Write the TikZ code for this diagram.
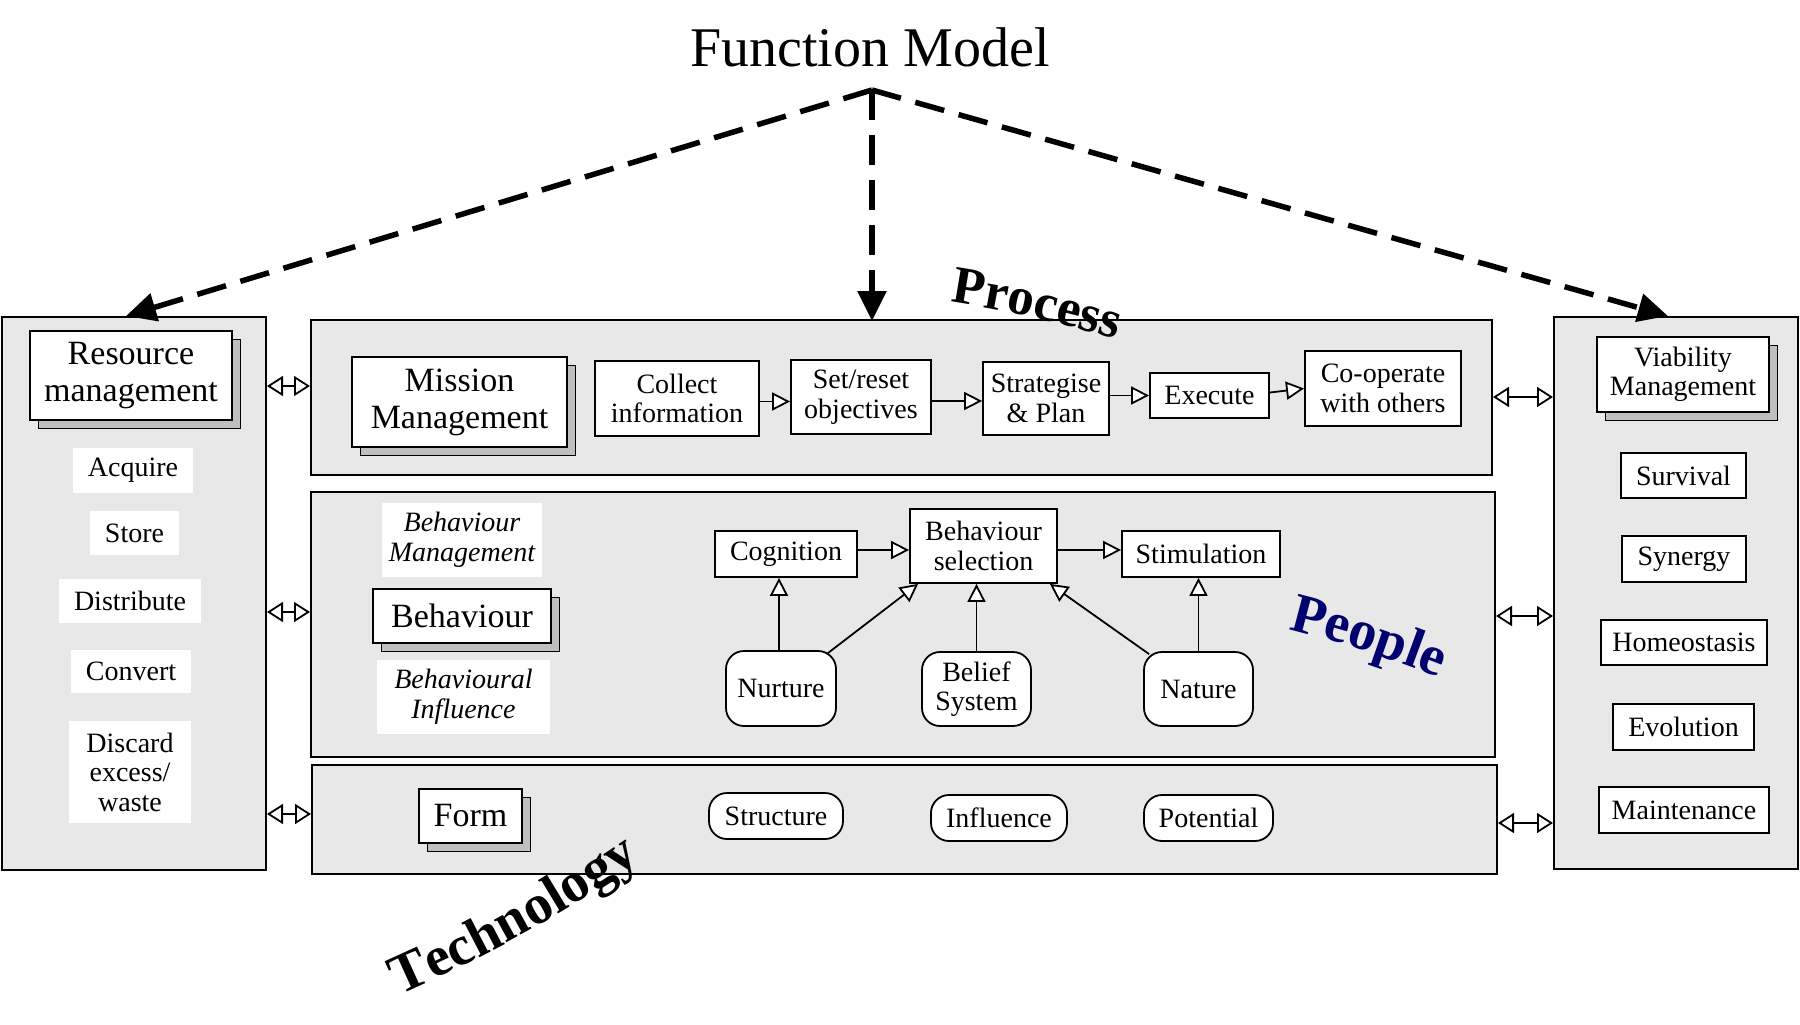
\documentclass[tikz,border=0pt]{standalone}
\usepackage{fontspec}
\setmainfont{Liberation Serif}
\usetikzlibrary{arrows.meta,shadows,decorations.text}

\definecolor{panelgray}{RGB}{232,232,232}
\definecolor{peoplenavy}{RGB}{0,0,110}

\newcommand\bigfnt{\fontsize{34}{37}\selectfont}
\newcommand\smallfnt{\fontsize{28}{29.5}\selectfont}

\tikzset{
  sz/.style 2 args={minimum width=#1pt, minimum height=#2pt},
  panel/.style={draw=black, line width=2pt, fill=panelgray, inner sep=0pt},
  box/.style={draw=black, line width=1.8pt, fill=white, inner sep=0pt, align=center, font=\smallfnt},
  bigbox/.style={box, font=\bigfnt,
    general shadow={shadow xshift=8pt, shadow yshift=-8pt, fill=gray!50, draw=black, line width=1pt}},
  smallshadow/.style={box,
    general shadow={shadow xshift=8pt, shadow yshift=-8pt, fill=gray!50, draw=black, line width=1pt}},
  tag/.style={fill=white, inner sep=0pt, align=center, font=\smallfnt},
  itag/.style={tag, font=\smallfnt\itshape},
  roundbox/.style={box, rounded corners=18pt},
  pill/.style={box, rounded corners=18pt},
  flow/.style={line width=1.8pt, -{Triangle[length=18pt, width=18pt, fill=white, line width=1.8pt]}},
  twoway/.style={line width=1.8pt,
    {Triangle[length=16pt, width=20pt, fill=white, line width=1.8pt]}-{Triangle[length=16pt, width=20pt, fill=white, line width=1.8pt]}},
  model/.style={line width=5.5pt, dash pattern=on 30pt off 15pt, -{Triangle[length=30pt, width=28pt]}},
}

\begin{document}
\begin{tikzpicture}[x=1pt, y=-1pt]
\useasboundingbox (0,0) rectangle (1800,1025);

% --- the five panels ---
\node[panel, sz={264}{553}]  (res)  at (134,593.5)  {};
\node[panel, sz={1181}{155}] (proc) at (901.5,397.5) {};
\node[panel, sz={1184}{265}] (peop) at (903,624.5)  {};
\node[panel, sz={1185}{109}] (tech) at (904.5,819.5) {};
\node[panel, sz={244}{552}]  (via)  at (1676,593)   {};

% --- title and the three dashed links ---
\node[font=\fontsize{56}{60}\selectfont, inner sep=0pt] (title) at (870,47) {Function Model};
\coordinate (apex) at (872,90);
\coordinate (tipL) at (126,316);
\coordinate (tipM) at (872,321);
\coordinate (tipR) at (1668,316);
\draw[model] (apex) -- (tipL);
\draw[model] (apex) -- (tipM);
\draw[model] (apex) -- (tipR);

% --- resource management column ---
\node[bigbox, sz={202}{89}] (resm) at (131,375.5) {Resource\\management};
\node[tag, sz={120}{45}]  (acq)   at (133,470.5) {Acquire};
\node[tag, sz={89}{44}]   (store) at (134.5,533) {Store};
\node[tag, sz={142}{44}]  (dist)  at (130,601)   {Distribute};
\node[tag, sz={120}{43}]  (conv)  at (131,671.5) {Convert};
\node[tag, sz={122}{102}] (disc)  at (130,772)   {Discard\\excess/\\waste};

% --- process row ---
\node[bigbox, sz={215}{90}] (miss) at (459.5,402) {Mission\\Management};
\node[box, sz={164}{75}] (coll)  at (677,398.5)   {Collect\\information};
\node[box, sz={140}{74}] (setr)  at (861,397)     {Set/reset\\objectives};
\node[box, sz={126}{73}] (strat) at (1046,398.5)  {Strategise\\\& Plan};
\node[box, sz={119}{45}] (exec)  at (1209.5,395.5) {Execute};
\node[box, sz={156}{75}] (coop)  at (1383,388.5)  {Co-operate\\with others};
\draw[flow] ([yshift=-3pt]coll.east) -- ([yshift=-3pt]coll.east -| setr.west);
\draw[flow] ([yshift=-4pt]setr.east) -- ([yshift=-4pt]setr.east -| strat.west);
\draw[flow] (strat.east |- exec.west) -- (exec.west);
\draw[flow] ([yshift=3pt]exec.east) -- (coop.west);

% --- people row ---
\node[itag, sz={160}{74}] (bmgmt) at (462,540) {Behaviour\\Management};
\node[bigbox, sz={178}{54}] (behav) at (462,616) {Behaviour};
\node[itag, sz={173}{74}] (binfl) at (463.5,697) {Behavioural\\Influence};
\node[box, sz={142}{46}] (cog)  at (786,554)     {Cognition};
\node[box, sz={147}{74}] (bsel) at (983.5,546)   {Behaviour\\selection};
\node[box, sz={158}{46}] (stim) at (1201,554)    {Stimulation};
\node[roundbox, sz={110}{75}] (nurt) at (781,688.5)   {Nurture};
\node[roundbox, sz={109}{74}] (beli) at (976.5,689)   {Belief\\System};
\node[roundbox, sz={109}{74}] (natu) at (1198.5,689)  {Nature};
\draw[flow] ([yshift=4pt]cog.east) -- ([yshift=4pt]cog.east -| bsel.west);
\draw[flow] ([yshift=-4pt]bsel.east) -- ([yshift=-4pt]bsel.east -| stim.west);
\draw[flow] ([xshift=-2pt]nurt.north) -- ([xshift=-2pt]nurt.north |- cog.south);
\draw[flow] ([xshift=-9pt,yshift=-3pt]nurt.north east) -- ([xshift=9pt]bsel.south west);
\draw[flow] (beli.north) -- (beli.north |- bsel.south);
\draw[flow] ([xshift=6pt,yshift=-3pt]natu.north west) -- ([xshift=-8pt]bsel.south east);
\draw[flow] (natu.north) -- (natu.north |- stim.south);

% --- technology row ---
\node[bigbox, sz={103}{54}] (form) at (470.5,816) {Form};
\node[pill, sz={134}{46}] (struc) at (776,816)    {Structure};
\node[pill, sz={136}{46}] (infl)  at (999,818)    {Influence};
\node[pill, sz={129}{46}] (pot)   at (1208.5,818) {Potential};

% --- viability column ---
\node[smallshadow, sz={172}{75}] (viam) at (1683,374.5) {Viability\\Management};
\node[box, sz={125}{45}] (surv) at (1683.5,475.5) {Survival};
\node[box, sz={124}{46}] (syne) at (1684,559)     {Synergy};
\node[box, sz={166}{45}] (home) at (1684,642.5)   {Homeostasis};
\node[box, sz={141}{46}] (evol) at (1683.5,727)   {Evolution};
\node[box, sz={170}{46}] (main) at (1684,810)     {Maintenance};

% --- two-way links between the columns and the rows ---
\draw[twoway] (res.east |- 0,386) -- (proc.west |- 0,386);
\draw[twoway] (res.east |- 0,612) -- (peop.west |- 0,612);
\draw[twoway] (res.east |- 0,814) -- (tech.west |- 0,814);
\draw[twoway] (proc.east |- 0,397) -- (via.west |- 0,397);
\draw[twoway] (peop.east |- 0,616) -- (via.west |- 0,616);
\draw[twoway] (tech.east |- 0,823) -- (via.west |- 0,823);

% --- curved row titles ---
\path[decorate, decoration={text along path, text align=center,
   text={|\fontsize{53}{53}\selectfont\bfseries|Process}}]
   (901,295) to[bend left=5] (1164,354);
\path[decorate, decoration={text along path, text align=center,
   text={|\fontsize{56}{56}\selectfont\bfseries\color{peoplenavy}|People}}]
   (1241,618) to[bend left=5] (1484,696);
\path[decorate, decoration={text along path, text align=center,
   text={|\fontsize{56}{56}\selectfont\bfseries|Technology}}]
   (356,1014) to[bend right=6] (680,834);
\end{tikzpicture}
\end{document}
